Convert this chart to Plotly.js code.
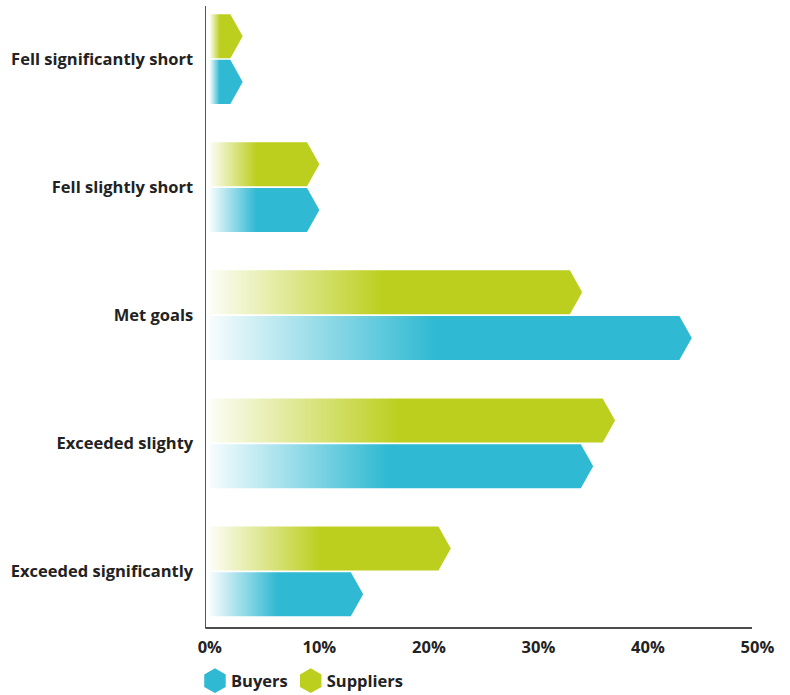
<!DOCTYPE html>
<html>
<head>
<meta charset="utf-8">
<script src="https://cdn.plot.ly/plotly-3.0.1.min.js"></script>
<style>
  html, body { margin: 0; padding: 0; background: #ffffff; }
  #chart { width: 790px; height: 695px; }
</style>
</head>
<body>
<div id="chart"></div>
<script>
// ---- Data (bottom to top category order) ----
var categories = ["Exceeded significantly", "Exceeded slighty", "Met goals", "Fell slightly short", "Fell significantly short"];
var buyers = [14, 35, 44, 10, 3];
var suppliers = [22, 37, 34, 10, 3];
var seriesNames = ["Buyers", "Suppliers"];
var xTickVals = [0, 10, 20, 30, 40, 50];
var xTickText = ["0%", "10%", "20%", "30%", "40%", "50%"];

var colors = ["#2fb9d2", "#bccf1f"];
var FONT = "'Open Sans', Lato, sans-serif";

var data = [
  { type: "bar", orientation: "h", name: seriesNames[0], y: categories, x: buyers,
    marker: { color: colors[0], line: { width: 0 } }, showlegend: false, hoverinfo: "none" },
  { type: "bar", orientation: "h", name: seriesNames[1], y: categories, x: suppliers,
    marker: { color: colors[1], line: { width: 0 } }, showlegend: false, hoverinfo: "none" },
  { type: "scatter", mode: "markers", name: seriesNames[0], x: [null], y: [null],
    marker: { symbol: "hexagon", size: 16, color: colors[0] }, hoverinfo: "none" },
  { type: "scatter", mode: "markers", name: seriesNames[1], x: [null], y: [null],
    marker: { symbol: "hexagon", size: 16, color: colors[1] }, hoverinfo: "none" }
];

var layout = {
  width: 790, height: 695,
  margin: { l: 206, r: 32, t: 6, b: 67 },
  paper_bgcolor: "#ffffff", plot_bgcolor: "#ffffff",
  font: { family: FONT, size: 15, color: "#222222", weight: 700 },
  barmode: "group", bargap: 0.286, bargroupgap: 0.037,
  showlegend: true,
  legend: { orientation: "h", x: -0.02, xanchor: "left", y: 14 / 695, yref: "container", yanchor: "middle",
            font: { family: FONT, size: 16.5, color: "#222222", weight: 700 }, itemwidth: 30,
            bgcolor: "rgba(0,0,0,0)", borderwidth: 0, traceorder: "normal" },
  xaxis: { range: [-0.35, 50.05], tickvals: xTickVals, ticktext: xTickText, showgrid: false, zeroline: false,
           showline: false, ticks: "", ticklabelstandoff: 7,
           tickfont: { family: FONT, size: 16.5, color: "#222222", weight: 700 } },
  yaxis: { type: "category", range: [-0.442, 4.414], showgrid: false, zeroline: false,
           showline: true, linecolor: "#555555", linewidth: 1.5, ticks: "", ticklabelstandoff: 8,
           tickfont: { family: FONT, size: 16.5, color: "#222222", weight: 700 } },
  shapes: [
    { type: "line", xref: "paper", yref: "paper", x0: -0.001, x1: (752 - 206) / 552, y0: 0, y1: 0,
      line: { color: "#111111", width: 1.5 } }
  ]
};

var gd = document.getElementById("chart");
Plotly.newPlot(gd, data, layout, { staticPlot: true, displayModeBar: false }).then(styleBars);

function styleBars() {
  var svgNS = "http://www.w3.org/2000/svg";
  var svg = gd.querySelector(".main-svg");
  var defs = svg.querySelector("defs");
  var traces = gd.querySelectorAll(".barlayer .trace.bars");
  traces.forEach(function (tr, ti) {
    var col = colors[ti];
    tr.querySelectorAll(".point path").forEach(function (p, pi) {
      var bb = p.getBBox();
      if (!bb.width) return;
      var L = bb.x, R = bb.x + bb.width, T = bb.y, B = bb.y + bb.height, M = (T + B) / 2;
      var tw = Math.min(bb.height * 0.28, bb.width * 0.6);
      var flatR = R - tw;
      p.setAttribute("d", "M" + L + "," + T + "H" + flatR + "L" + R + "," + M + "L" + flatR + "," + B + "H" + L + "Z");
      var id = "grad_" + ti + "_" + pi;
      var g = document.createElementNS(svgNS, "linearGradient");
      g.setAttribute("id", id);
      g.setAttribute("gradientUnits", "userSpaceOnUse");
      g.setAttribute("x1", L); g.setAttribute("y1", 0);
      g.setAttribute("x2", L + 0.48 * (flatR - L)); g.setAttribute("y2", 0);
      var s0 = document.createElementNS(svgNS, "stop");
      s0.setAttribute("offset", "0"); s0.setAttribute("stop-color", col); s0.setAttribute("stop-opacity", "0.04");
      var s1 = document.createElementNS(svgNS, "stop");
      s1.setAttribute("offset", "1"); s1.setAttribute("stop-color", col); s1.setAttribute("stop-opacity", "1");
      g.appendChild(s0); g.appendChild(s1);
      defs.appendChild(g);
      p.style.fill = "url(#" + id + ")";
      p.style.fillOpacity = "1";
    });
  });
  // enlarge legend hexagons, pull text closer, tighten item spacing
  gd.querySelectorAll(".legend .legendpoints path.scatterpts").forEach(function (p) {
    var t = p.getAttribute("transform") || "";
    p.setAttribute("transform", t + " scale(1.55)");
  });
  gd.querySelectorAll(".legend text.legendtext").forEach(function (t) {
    var x = parseFloat(t.getAttribute("x")) || 40;
    t.setAttribute("x", x - 4);
  });
  gd.querySelectorAll(".legend g.traces").forEach(function (g, i) {
    if (i === 0) return;
    var t = g.getAttribute("transform") || "";
    var m = /translate\(\s*([-\d.e]+)[ ,]+([-\d.e]+)\s*\)/.exec(t);
    if (m) g.setAttribute("transform", "translate(" + (parseFloat(m[1]) - 6 * i) + "," + m[2] + ")");
  });
}
</script>
</body>
</html>
